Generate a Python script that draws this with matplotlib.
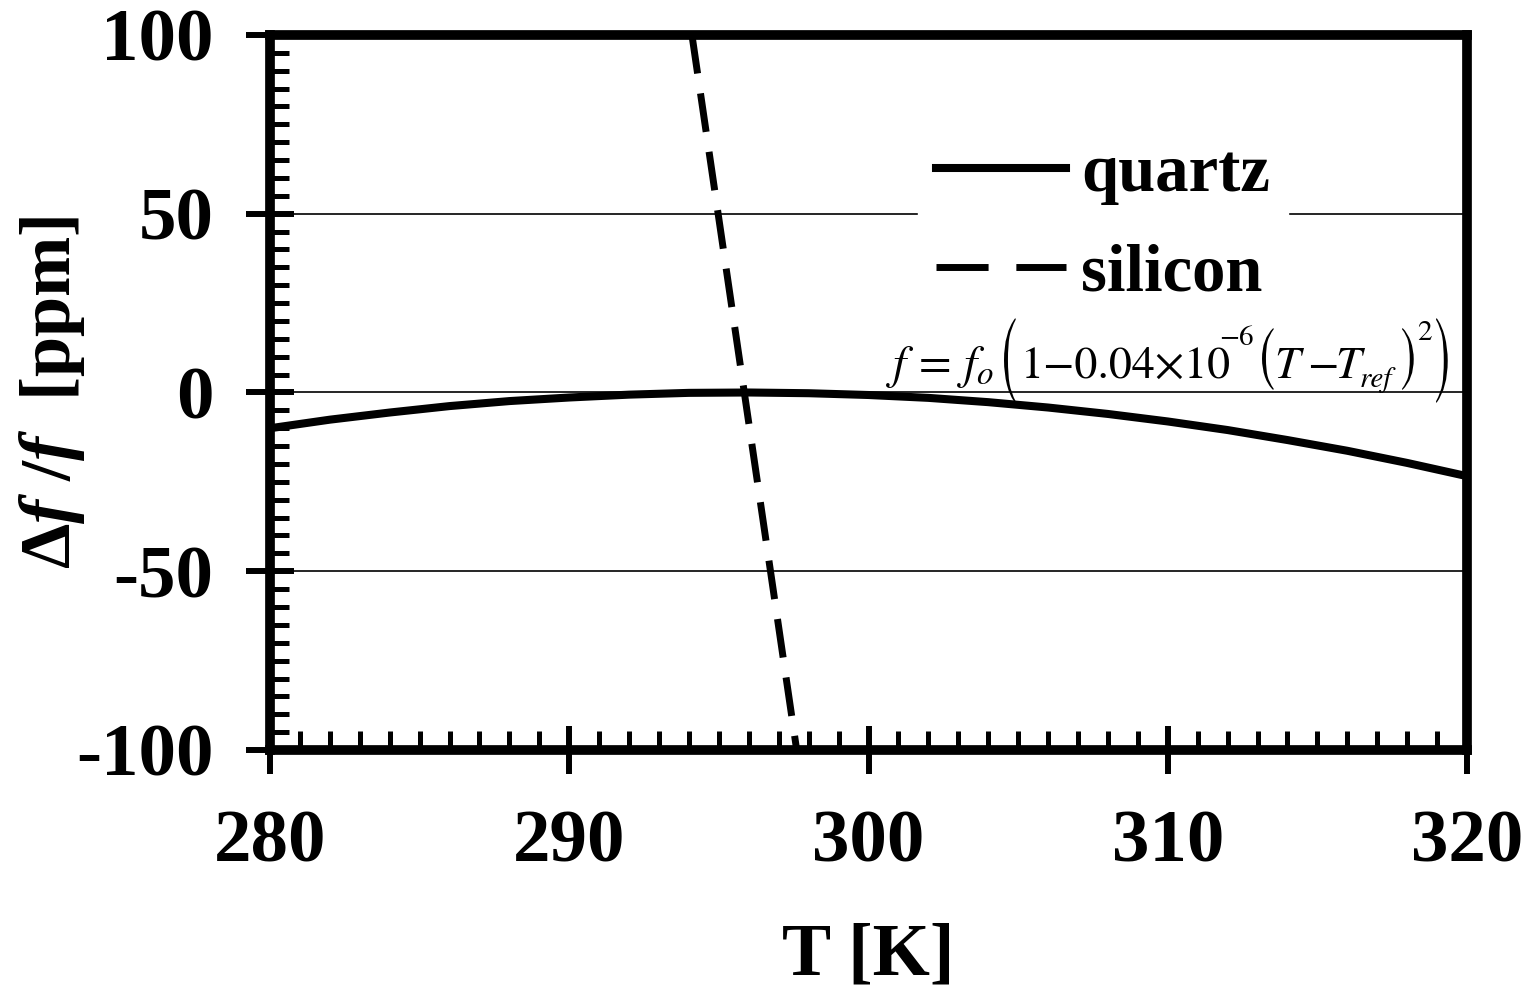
import matplotlib
matplotlib.use("Agg")
import matplotlib.pyplot as plt
from matplotlib.font_manager import FontProperties
from matplotlib.patches import PathPatch
from matplotlib.textpath import TextPath
from matplotlib.transforms import Affine2D

# temperature sweep (K) and fractional frequency shift (ppm)
T_quartz = [280, 282, 284, 286, 288, 290, 292, 294, 296, 298, 300,
            302, 304, 306, 308, 310, 312, 314, 316, 318, 320]
df_quartz = [-10.0, -7.6, -5.6, -3.8, -2.4, -1.4, -0.6, -0.1, 0.0, -0.2, -0.7,
             -1.5, -2.7, -4.2, -6.0, -8.1, -10.5, -13.3, -16.3, -19.7, -23.4]
T_silicon = [294.1, 297.6]
df_silicon = [100, -100]

x_ticks = [280, 290, 300, 310, 320]
y_ticks = [-100, -50, 0, 50, 100]

W, H = 1534, 988
plt.rcParams.update({
    "font.family": "Liberation Serif",
    "axes.unicode_minus": False,
    "mathtext.fontset": "custom",
    "mathtext.rm": "Liberation Serif:bold",
    "mathtext.it": "Liberation Serif:italic:bold",
    "mathtext.bf": "Liberation Serif:bold",
})

fig = plt.figure(figsize=(W / 100, H / 100), dpi=100)
ax = fig.add_axes([270 / W, 1 - 750 / H, 1197 / W, 715 / H])

ax.plot(T_quartz, df_quartz, color="black", lw=5.8, solid_joinstyle="round",
        label="quartz")
ax.plot(T_silicon, df_silicon, color="black", lw=5.0, dashes=(5.6, 2.9),
        dash_capstyle="butt", label="silicon")

ax.set_xlim(280, 320)
ax.set_ylim(-100, 100)
ax.set_xticks(x_ticks)
ax.set_yticks(y_ticks)
ax.set_xticks(range(281, 320), minor=True)
ax.set_yticks(range(-95, 100, 5), minor=True)

for s in ax.spines.values():
    s.set_linewidth(7)
ax.tick_params(which="major", direction="inout", length=35, width=4.3,
               labelsize=54, pad=23)
ax.tick_params(which="minor", direction="in", length=14, width=3.6)
ax.tick_params(axis="x", which="major", pad=25)
for lab in ax.get_xticklabels() + ax.get_yticklabels():
    lab.set_fontweight("bold")

for v in (-50, 0, 50):
    ax.axhline(v, color="black", lw=1.2, zorder=0.5)

ax.set_xlabel("T [K]", fontsize=53, fontweight="bold")
ax.xaxis.set_label_coords(0.5, -(956 - 750) / 715)
ax.xaxis.label.set_va("center")
ax.set_ylabel(r"$\Delta f\ /f$  [ppm]", fontsize=52, fontweight="bold")
ax.yaxis.label.set_va("center")
ax.yaxis.set_label_coords(-(270 - 52) / 1197, 0.5)

leg = ax.legend(loc="upper left", bbox_to_anchor=(885 / W, 1 - 93 / H),
                bbox_transform=fig.transFigure, frameon=True,
                prop={"size": 48, "weight": "bold"},
                fancybox=False, framealpha=1, edgecolor="white",
                handlelength=1.95, handletextpad=0.22, borderpad=0.27,
                labelspacing=0.57)
leg.set_zorder(3)
leg.get_lines()[1].set_dashes((7.5, 4.0))


# quadratic model, typeset piece by piece (pixel positions, y from top)
def put(x, y, s, size=33, style="normal"):
    fig.text(x / W, 1 - y / H, s, fontsize=size, family="STIXGeneral",
             style=style, ha="left", va="baseline", math_fontfamily="stix")


def paren(ch, x, top, bottom):
    # parenthesis glyph stretched vertically to span top..bottom
    tp = TextPath((0, 0), ch, size=33, prop=FontProperties(family="STIXGeneral"))
    ext = tp.get_extents()
    tr = (Affine2D().translate(-ext.x0, -ext.y0)
          .scale(100 / 72, (bottom - top) / ext.height)
          .translate(x, H - bottom))
    fig.add_artist(PathPatch(tp, transform=tr, fc="black", lw=0))


put(886, 378, r"$f\,=\,f_o$", size=34)
paren("(", 1004, 318, 403)
put(1021, 378, "1\u22120.04\u00d710")
put(1219, 345, "\u22126", size=21)
paren("(", 1262, 328, 390)
put(1274, 378, "T", style="italic")
put(1307, 378, "\u2212")
put(1335, 378, "T", style="italic")
put(1360, 387, "ref", size=21, style="italic")
paren(")", 1402, 328, 390)
put(1417, 340, "2", size=21)
paren(")", 1436, 318, 403)

fig.savefig("out.png", dpi=100)
